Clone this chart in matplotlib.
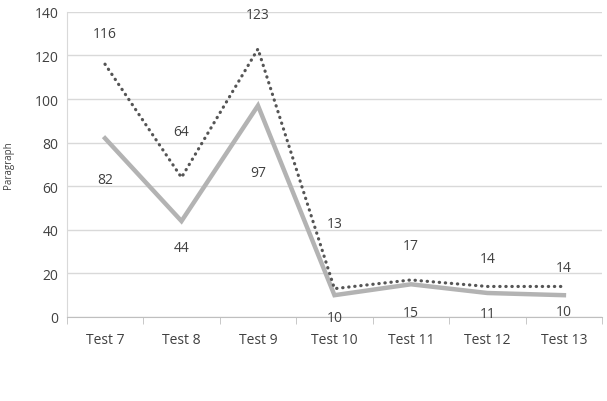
import matplotlib.pyplot as plt
import numpy as np

# data
tests = ['Test 7', 'Test 8', 'Test 9', 'Test 10', 'Test 11', 'Test 12', 'Test 13']
dotted_vals = [116, 64, 123, 13, 17, 14, 14]
solid_vals = [82, 44, 97, 10, 15, 11, 10]

# label offsets in points (dotted above, solid below)
dotted_off = [22, 33, 25, 47, 25, 20, 14]
solid_off = [-30, -19, -48, -16, -20, -15, -12]

plt.rcParams['font.family'] = ['Open Sans', 'DejaVu Sans']
txt = '#404040'

fig = plt.figure(figsize=(6.07, 4.02), dpi=100)
ax = fig.add_axes([0.110, 0.209, 0.882, 0.759])

x = np.arange(len(tests))
ax.plot(x, solid_vals, color='#b3b3b3', lw=3.2, solid_joinstyle='miter', zorder=3)
ax.plot(x, dotted_vals, color='#555555', lw=2.3, linestyle=(0, (0.1, 1.8)),
        dash_capstyle='round', zorder=4)

for i in range(len(tests)):
    ax.annotate(str(dotted_vals[i]), (x[i], dotted_vals[i]), xytext=(0, dotted_off[i]),
                textcoords='offset points', ha='center', va='center', fontsize=10, color=txt)
    ax.annotate(str(solid_vals[i]), (x[i], solid_vals[i]), xytext=(0, solid_off[i]),
                textcoords='offset points', ha='center', va='center', fontsize=10, color=txt)

ax.set_xlim(-0.5, len(tests) - 0.5)
ax.set_ylim(0, 140)
ax.set_yticks(range(0, 141, 20))
ax.set_xticks(x)
ax.set_xticklabels(tests)
ax.set_xticks(np.arange(-0.5, len(tests)), minor=True)
ax.tick_params(axis='x', which='major', length=0, pad=11, labelsize=10, labelcolor=txt)
ax.tick_params(axis='x', which='minor', length=5, color='#bfbfbf', direction='out')
ax.tick_params(axis='y', length=0, pad=6, labelsize=10, labelcolor=txt)

ax.grid(axis='y', color='#d9d9d9', lw=1)
ax.set_axisbelow(True)
for s in ['top', 'right']:
    ax.spines[s].set_visible(False)
ax.spines['left'].set_color('#d9d9d9')
ax.spines['bottom'].set_color('#bfbfbf')

ax.set_ylabel('Paragraph', fontsize=7, color=txt, labelpad=15)

fig.savefig('out.png', dpi=100)
